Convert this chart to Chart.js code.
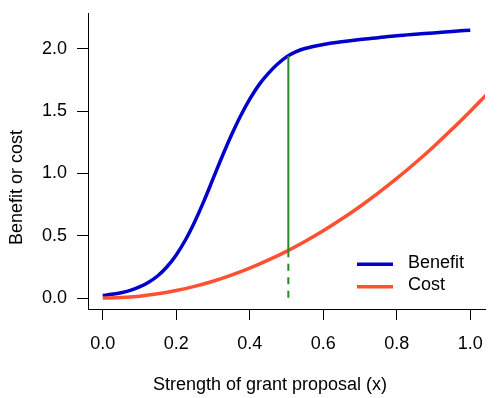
<!DOCTYPE html>
<html>
<head>
<meta charset="utf-8">
<script src="https://cdn.jsdelivr.net/npm/chart.js@4"></script>
<style>
  html, body { margin: 0; padding: 0; background: #fff; }
  canvas { display: block; }
</style>
</head>
<body>
<canvas id="chart" width="498" height="398"></canvas>
<script>
// Benefit curve
const benefitX = [0.00, 0.025, 0.05, 0.075, 0.10, 0.125, 0.15, 0.175, 0.20, 0.225, 0.25, 0.275,
                  0.30, 0.325, 0.35, 0.375, 0.40, 0.425, 0.45, 0.475, 0.50, 0.525, 0.55, 0.60,
                  0.65, 0.70, 0.75, 0.80, 0.85, 0.90, 0.95, 1.00];
const benefitY = [0.020, 0.030, 0.043, 0.062, 0.089, 0.127, 0.179, 0.251, 0.346, 0.466, 0.611, 0.776,
                  0.956, 1.136, 1.306, 1.461, 1.596, 1.711, 1.801, 1.876, 1.936, 1.976, 2.003, 2.035,
                  2.057, 2.075, 2.090, 2.105, 2.117, 2.128, 2.140, 2.150];

// Cost curve (runs past the right edge of the plot)
const costX = [0.00, 0.05, 0.10, 0.15, 0.20, 0.25, 0.30, 0.35, 0.40, 0.45, 0.50, 0.55,
               0.60, 0.65, 0.70, 0.75, 0.80, 0.85, 0.90, 0.95, 1.00, 1.05];
const costY = [0.000, 0.004, 0.015, 0.034, 0.060, 0.094, 0.135, 0.184, 0.240, 0.304, 0.375, 0.454,
               0.540, 0.634, 0.735, 0.844, 0.960, 1.084, 1.215, 1.354, 1.500, 1.650];

// Green marker at the chosen proposal strength
const cutX = [0.505, 0.505];
const cutSolidY = [0.383, 1.945];
const cutDashY = [0.383, 0.0];

// Axes
const xTicks = [0.0, 0.2, 0.4, 0.6, 0.8, 1.0];
const xTickLabels = ['0.0', '0.2', '0.4', '0.6', '0.8', '1.0'];
const yTicks = [0.0, 0.5, 1.0, 1.5, 2.0];
const yTickLabels = ['0.0', '0.5', '1.0', '1.5', '2.0'];
const xTitle = 'Strength of grant proposal (x)';
const yTitle = 'Benefit or cost';
const legendLabels = ['Benefit', 'Cost'];

const BLUE = '#0000CC';
const RED = '#FF5030';
const GREEN = '#228B22';
const FONT = '"Liberation Sans", Arial, sans-serif';

Chart.defaults.font.family = FONT;
Chart.defaults.font.size = 18;
Chart.defaults.color = '#000';

const toPoints = (xs, ys) => xs.map((x, i) => ({ x: x, y: ys[i] }));

// Axis titles and legend drawn at the spots R put them
const annotate = {
  id: 'annotate',
  afterDraw(chart) {
    const ctx = chart.ctx;
    ctx.save();
    ctx.fillStyle = '#000';
    ctx.font = '18px ' + FONT;
    ctx.textAlign = 'center';
    ctx.textBaseline = 'alphabetic';
    ctx.fillText(xTitle, 270, 389.5);
    ctx.save();
    ctx.translate(22, 187.5);
    ctx.rotate(-Math.PI / 2);
    ctx.fillText(yTitle, 0, 0);
    ctx.restore();

    // legend
    const colors = [BLUE, RED];
    ctx.textAlign = 'left';
    ctx.lineWidth = 3.5;
    ctx.lineCap = 'butt';
    legendLabels.forEach((label, i) => {
      const y = 264.3 + i * 22.4;
      ctx.strokeStyle = colors[i];
      ctx.beginPath();
      ctx.moveTo(357, y);
      ctx.lineTo(393, y);
      ctx.stroke();
      ctx.fillText(label, 408, y + 3.4);
    });
    ctx.restore();
  }
};

new Chart(document.getElementById('chart'), {
  type: 'line',
  data: {
    datasets: [
      {
        label: 'cut-solid',
        data: toPoints(cutX, cutSolidY),
        borderColor: GREEN,
        borderWidth: 2,
        pointRadius: 0,
        order: 0
      },
      {
        label: 'cut-dash',
        data: toPoints(cutX, cutDashY),
        borderColor: GREEN,
        borderWidth: 2,
        borderDash: [7, 6.5],
        pointRadius: 0,
        order: 0
      },
      {
        label: legendLabels[1],
        data: toPoints(costX, costY),
        borderColor: RED,
        borderWidth: 3.5,
        pointRadius: 0,
        cubicInterpolationMode: 'monotone',
        order: 1
      },
      {
        label: legendLabels[0],
        data: toPoints(benefitX, benefitY),
        borderColor: BLUE,
        borderWidth: 3.5,
        pointRadius: 0,
        cubicInterpolationMode: 'monotone',
        order: 2
      }
    ]
  },
  options: {
    responsive: false,
    animation: false,
    devicePixelRatio: 1,
    layout: { padding: { top: 13, right: 13, left: 0, bottom: 0 } },
    plugins: {
      legend: { display: false },
      tooltip: { enabled: false }
    },
    scales: {
      x: {
        type: 'linear',
        min: -0.04,
        max: 1.04,
        afterFit: (scale) => {
          scale.height = 89;
          scale.paddingLeft = 0;
          scale.paddingRight = 0;
        },
        afterBuildTicks: (scale) => { scale.ticks = xTicks.map(v => ({ value: v })); },
        grid: { drawOnChartArea: false, drawTicks: true, tickLength: 11, color: '#000', lineWidth: 1 },
        border: { display: true, color: '#000', width: 1 },
        ticks: {
          autoSkip: false,
          maxRotation: 0,
          padding: 13,
          color: '#000',
          font: { size: 18 },
          callback: (v, i) => xTickLabels[i]
        }
      },
      y: {
        type: 'linear',
        min: -0.088,
        max: 2.288,
        afterFit: (scale) => {
          scale.width = 88;
          scale.paddingTop = 0;
          scale.paddingBottom = 0;
        },
        afterBuildTicks: (scale) => { scale.ticks = yTicks.map(v => ({ value: v })); },
        grid: { drawOnChartArea: false, drawTicks: true, tickLength: 11, color: '#000', lineWidth: 1 },
        border: { display: true, color: '#000', width: 1 },
        ticks: {
          padding: 10,
          color: '#000',
          font: { size: 18 },
          callback: (v, i) => yTickLabels[i]
        }
      }
    }
  },
  plugins: [annotate]
});
</script>
</body>
</html>
